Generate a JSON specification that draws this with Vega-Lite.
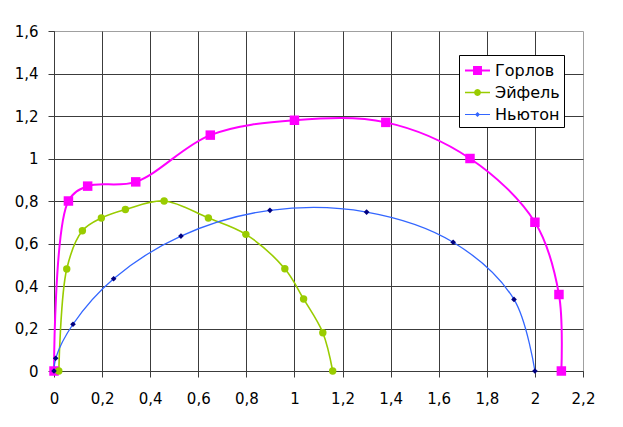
{
  "$schema": "https://vega.github.io/schema/vega-lite/v6.json",
  "width": 529,
  "height": 340,
  "autosize": {"type": "none"},
  "padding": {"left": 54, "top": 31, "right": 40, "bottom": 56},
  "background": "white",
  "config": {
    "font": "DejaVu Sans",
    "view": {"stroke": "#a0a0a0", "strokeWidth": 1},
    "axis": {
      "title": null,
      "grid": true,
      "gridColor": "#3c3c3c",
      "gridWidth": 1,
      "domainColor": "#3c3c3c",
      "tickColor": "#3c3c3c",
      "tickSize": 6,
      "labelFont": "DejaVu Sans",
      "labelFontSize": 15,
      "labelColor": "#000",
      "labelFlush": false,
      "labelOverlap": false
    },
    "legend": {
      "orient": "none",
      "legendX": 405,
      "legendY": 24,
      "padding": 4,
      "rowPadding": 2,
      "strokeColor": "#000",
      "fillColor": "#fff",
      "symbolSize": 529,
      "symbolStrokeWidth": 0,
      "symbolOffset": 3,
      "labelFont": "DejaVu Sans",
      "labelFontSize": 16,
      "labelColor": "#000",
      "labelOffset": 6
    }
  },
  "data": {
    "values": [
      {"series": "Горлов", "i": 0, "x": 0, "y": 0},
      {"series": "Горлов", "i": 1, "x": 0.06, "y": 0.8},
      {"series": "Горлов", "i": 2, "x": 0.14, "y": 0.87},
      {"series": "Горлов", "i": 3, "x": 0.34, "y": 0.89},
      {"series": "Горлов", "i": 4, "x": 0.65, "y": 1.11},
      {"series": "Горлов", "i": 5, "x": 1.0, "y": 1.18},
      {"series": "Горлов", "i": 6, "x": 1.38, "y": 1.17},
      {"series": "Горлов", "i": 7, "x": 1.73, "y": 1.0},
      {"series": "Горлов", "i": 8, "x": 2.0, "y": 0.7},
      {"series": "Горлов", "i": 9, "x": 2.1, "y": 0.36},
      {"series": "Горлов", "i": 10, "x": 2.11, "y": 0},
      {"series": "Эйфель", "i": 0, "x": 0.02, "y": 0},
      {"series": "Эйфель", "i": 1, "x": 0.053, "y": 0.48},
      {"series": "Эйфель", "i": 2, "x": 0.118, "y": 0.66},
      {"series": "Эйфель", "i": 3, "x": 0.197, "y": 0.72},
      {"series": "Эйфель", "i": 4, "x": 0.297, "y": 0.76},
      {"series": "Эйфель", "i": 5, "x": 0.458, "y": 0.8},
      {"series": "Эйфель", "i": 6, "x": 0.642, "y": 0.72},
      {"series": "Эйфель", "i": 7, "x": 0.798, "y": 0.643},
      {"series": "Эйфель", "i": 8, "x": 0.96, "y": 0.481},
      {"series": "Эйфель", "i": 9, "x": 1.038, "y": 0.339},
      {"series": "Эйфель", "i": 10, "x": 1.118, "y": 0.18},
      {"series": "Эйфель", "i": 11, "x": 1.159, "y": 0},
      {"series": "Ньютон", "i": 0, "x": 0, "y": 0},
      {"series": "Ньютон", "i": 1, "x": 0.007, "y": 0.06},
      {"series": "Ньютон", "i": 2, "x": 0.079, "y": 0.22},
      {"series": "Ньютон", "i": 3, "x": 0.248, "y": 0.434},
      {"series": "Ньютон", "i": 4, "x": 0.528, "y": 0.635},
      {"series": "Ньютон", "i": 5, "x": 0.898, "y": 0.756},
      {"series": "Ньютон", "i": 6, "x": 1.3, "y": 0.748},
      {"series": "Ньютон", "i": 7, "x": 1.66, "y": 0.606},
      {"series": "Ньютон", "i": 8, "x": 1.913, "y": 0.337},
      {"series": "Ньютон", "i": 9, "x": 2.0, "y": 0}
    ]
  },
  "encoding": {
    "x": {
      "field": "x",
      "type": "quantitative",
      "scale": {"domain": [0, 2.2], "nice": false, "zero": false},
      "axis": {
        "values": [0, 0.2, 0.4, 0.6, 0.8, 1, 1.2, 1.4, 1.6, 1.8, 2, 2.2],
        "labelExpr": "replace(format(datum.value, '.1~f'), '.', ',')",
        "labelPadding": 14,
        "gridOpacity": {"condition": {"test": "datum.value > 2.19", "value": 0}, "value": 1}
      }
    },
    "y": {
      "field": "y",
      "type": "quantitative",
      "scale": {"domain": [0, 1.6], "nice": false, "zero": false},
      "axis": {
        "values": [0, 0.2, 0.4, 0.6, 0.8, 1, 1.2, 1.4, 1.6],
        "labelExpr": "replace(format(datum.value, '.1~f'), '.', ',')",
        "labelPadding": 10,
        "gridOpacity": {"condition": {"test": "datum.value > 1.59", "value": 0}, "value": 1}
      }
    }
  },
  "layer": [
    {
      "transform": [{"filter": "datum.series === 'Горлов'"}],
      "mark": {"type": "line", "interpolate": "catmull-rom", "clip": false, "color": "#ff00ff", "strokeWidth": 2},
      "encoding": {"order": {"field": "i", "type": "quantitative"}}
    },
    {
      "transform": [{"filter": "datum.series === 'Эйфель'"}],
      "mark": {"type": "line", "interpolate": "catmull-rom", "clip": false, "color": "#99cc00", "strokeWidth": 1.6},
      "encoding": {"order": {"field": "i", "type": "quantitative"}}
    },
    {
      "transform": [{"filter": "datum.series === 'Ньютон'"}],
      "mark": {"type": "line", "interpolate": "catmull-rom", "clip": false, "color": "#3366ff", "strokeWidth": 1.3},
      "encoding": {"order": {"field": "i", "type": "quantitative"}}
    },
    {
      "transform": [{"filter": "datum.series === 'Горлов'"}],
      "mark": {"type": "point", "shape": "square", "size": 90, "filled": true, "color": "#ff00ff", "opacity": 1, "strokeWidth": 0, "clip": false}
    },
    {
      "transform": [{"filter": "datum.series === 'Эйфель'"}],
      "mark": {"type": "point", "shape": "circle", "size": 55, "filled": true, "color": "#99cc00", "opacity": 1, "strokeWidth": 0, "clip": false}
    },
    {
      "transform": [{"filter": "datum.series === 'Ньютон'"}],
      "mark": {"type": "point", "shape": "diamond", "size": 32, "filled": true, "color": "#000080", "opacity": 1, "strokeWidth": 0, "clip": false}
    },
    {
      "transform": [{"filter": "datum.i < 0"}],
      "mark": {"type": "point", "filled": true, "opacity": 1, "strokeWidth": 0},
      "encoding": {
        "color": {
          "field": "series",
          "type": "nominal",
          "scale": {"domain": ["Горлов", "Эйфель", "Ньютон"], "range": ["#ff00ff", "#99cc00", "#3366ff"]},
          "legend": {"title": null}
        },
        "shape": {
          "field": "series",
          "type": "nominal",
          "scale": {
            "domain": ["Горлов", "Эйфель", "Ньютон"],
            "range": [
              "M-1.087,-0.087H1.087V0.087H-1.087Z M-0.39,-0.39H0.39V0.39H-0.39Z",
              "M-1.087,-0.065H1.087V0.065H-1.087Z M0.3,0L0.26,0.15L0.15,0.26L0,0.3L-0.15,0.26L-0.26,0.15L-0.3,0L-0.26,-0.15L-0.15,-0.26L0,-0.3L0.15,-0.26L0.26,-0.15Z",
              "M-1.087,-0.052H1.087V0.052H-1.087Z M0,-0.22L0.22,0L0,0.22L-0.22,0Z"
            ]
          },
          "legend": {"title": null}
        }
      }
    }
  ]
}
